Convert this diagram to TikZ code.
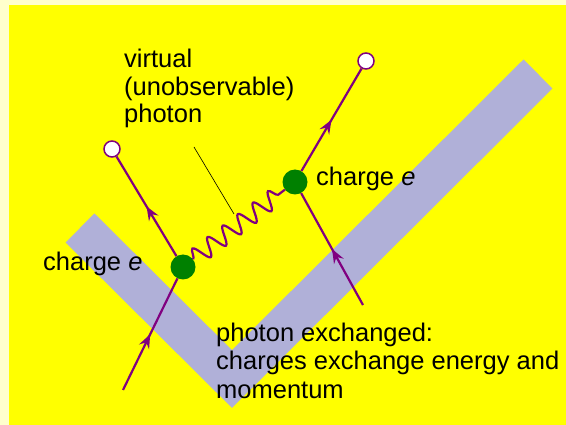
\documentclass[tikz,border=0pt]{standalone}
\usepackage{fontspec}
\setmainfont{Liberation Sans}
\usepackage{xcolor}
\usetikzlibrary{arrows.meta,decorations.markings,decorations.pathmorphing}
\definecolor{paleyellow}{RGB}{255,255,204}
\definecolor{bgyellow}{RGB}{255,255,0}
\definecolor{bandblue}{RGB}{176,176,216}
\definecolor{fermion}{RGB}{128,0,128}
\definecolor{vertexgreen}{RGB}{0,128,0}

\begin{document}
\begin{tikzpicture}[x=1pt, y=-1pt,
    every node/.style={font=\fontsize{25.5}{27.5}\selectfont, inner sep=0pt},
    vertex/.style={circle, fill=vertexgreen, minimum size=25pt, inner sep=0pt},
    endpoint/.style={circle, draw=fermion, line width=1.5pt, fill=white, minimum size=16pt, inner sep=0pt},
    fline/.style={color=fermion, line width=2.2pt, postaction={decorate},
        decoration={markings, mark=at position 0.5 with {\arrow{Stealth[length=14pt, width=11pt, inset=5pt]}}}},
    photon/.style={color=fermion, line width=2.2pt, decorate,
        decoration={snake, segment length=19pt, amplitude=9pt}},
]
\useasboundingbox (0,0) rectangle (566,425);

% Background
\fill[paleyellow] (0,0) rectangle (566,425);
\fill[bgyellow] (9,5) rectangle (566,425);

% Band
\draw[bandblue, line width=41pt, line join=miter] (80,228) -- (232,379) -- (538,74);

% Vertices and free ends
\node[vertex] (vl) at (183,267) {};
\node[vertex] (vr) at (295,182) {};
\node[endpoint] (outl) at (112,149) {};
\node[endpoint] (outr) at (366,61) {};
\coordinate (inl) at (123,390);
\coordinate (inr) at (363,305);

% Charge lines
\draw[fline] (inl) -- (vl);
\draw[fline] (vl) -- (outl);
\draw[fline] (inr) -- (vr);
\draw[fline] (vr) -- (outr);

% Virtual photon
\draw[photon] (vl) -- (vr);

% Labels
\node[anchor=base west, align=left] (lblphoton) at (124,123) {virtual\\(unobservable)\\photon};
\coordinate (ptrtop) at (194,147);
\coordinate (ptrend) at (234,214);
\draw[black, line width=0.6pt] (ptrtop) -- (ptrend);

\node[anchor=base west] (lblr) at (316,186) {charge \textit{e}};
\node[anchor=base west] (lbll) at (43,271) {charge \textit{e}};

\node[anchor=base west, align=left, font=\fontsize{25.5}{29}\selectfont] (lblexch) at (216,399)
    {photon exchanged:\\charges exchange energy and\\momentum};
\end{tikzpicture}
\end{document}
